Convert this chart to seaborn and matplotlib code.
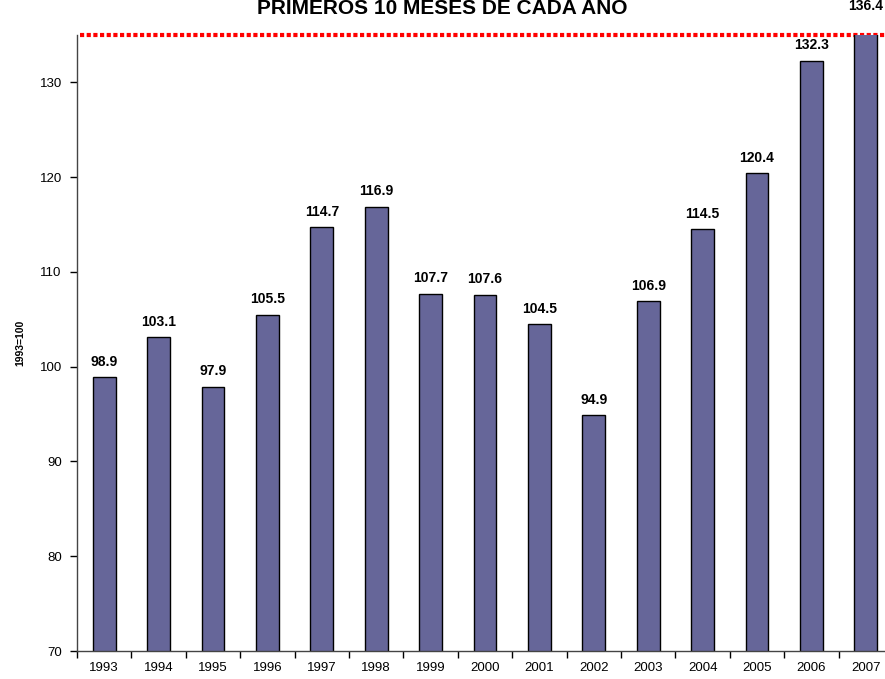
import seaborn as sns
import pandas as pd
import matplotlib.pyplot as plt
from matplotlib.ticker import FixedLocator

years = ["1993", "1994", "1995", "1996", "1997", "1998", "1999", "2000",
         "2001", "2002", "2003", "2004", "2005", "2006", "2007"]
values = [98.9, 103.1, 97.9, 105.5, 114.7, 116.9, 107.7, 107.6,
          104.5, 94.9, 106.9, 114.5, 120.4, 132.3, 136.4]

title = "PRIMEROS 10 MESES DE CADA AÑO"
ylabel = "1993=100"

df = pd.DataFrame({"year": years, "value": values})

sns.set_theme(style="white")
plt.rcParams["font.family"] = ["Liberation Sans", "DejaVu Sans"]
plt.rcParams["text.color"] = "black"
plt.rcParams["xtick.color"] = "black"
plt.rcParams["ytick.color"] = "black"
plt.rcParams["axes.labelcolor"] = "black"

fig = plt.figure(figsize=(8.85, 6.79), dpi=100)
ax = fig.add_axes([77 / 885, 28 / 679, 816 / 885, 616 / 679])

sns.barplot(data=df, x="year", y="value", color="#666699", saturation=1,
            width=0.42, edgecolor="black", linewidth=1, ax=ax, zorder=2)

ax.set_ylim(70, 135)
ax.set_xlim(-0.5, len(years) - 0.5)
ax.set_yticks(range(70, 131, 10))
ax.xaxis.set_minor_locator(FixedLocator([i - 0.5 for i in range(len(years) + 1)]))
ax.tick_params(axis="x", which="major", length=0, labelsize=9.5, pad=8)
ax.tick_params(axis="x", which="minor", length=5, width=1, color="black",
               direction="out", bottom=True)
ax.tick_params(axis="y", length=5, width=1, color="black", direction="out",
               left=True, labelsize=9.5, pad=6)

for s in ["top", "right"]:
    ax.spines[s].set_visible(False)
for s in ["left", "bottom"]:
    ax.spines[s].set_color("#444444")
    ax.spines[s].set_linewidth(1)

ax.set_xlabel("")
ax.set_ylabel(ylabel, fontsize=7.5, fontweight="bold", labelpad=10)

for i, v in enumerate(values):
    ax.annotate(f"{v:.1f}", (i, v), xytext=(0, 6), textcoords="offset points",
                ha="center", va="bottom", fontsize=10, fontweight="bold",
                annotation_clip=False)

ax.axhline(135, xmin=0.004, color="red", linewidth=3, linestyle=(0, (1, 0.6)),
           clip_on=False, zorder=1)

fig.text(0.5, 0.988, title, ha="center", va="center", fontsize=15,
         fontweight="bold")

fig.savefig("out.png", dpi=100)
